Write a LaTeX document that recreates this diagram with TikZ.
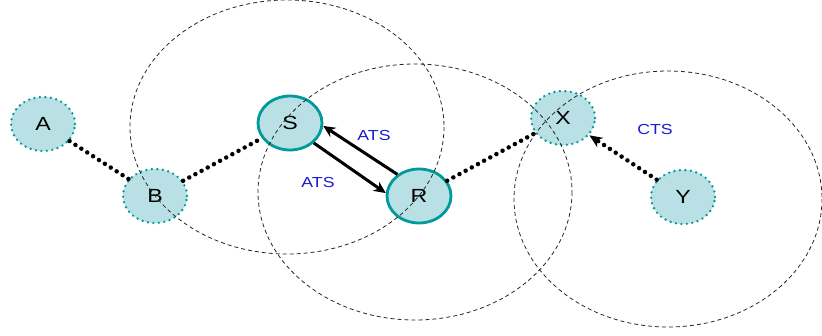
\documentclass[tikz,border=0pt]{standalone}
\usepackage{fontspec}
\usepackage{graphicx}
\setmainfont{Liberation Sans}
\usetikzlibrary{shapes.geometric,arrows.meta}
\definecolor{nodefill}{HTML}{B9E0E4}
\definecolor{teal2}{HTML}{009A9A}
\definecolor{lblue}{HTML}{1A1AD0}
\newcommand{\widetxt}[1]{\scalebox{1.22}[1]{#1}}
\begin{document}
\begin{tikzpicture}[x=1pt,y=-1pt,
  station/.style={ellipse,fill=nodefill,minimum width=64pt,minimum height=54pt,inner sep=0pt,font=\fontsize{19}{19}\selectfont},
  idle/.style={station,draw=teal2,line width=2.6pt,dash pattern=on 0pt off 5.5pt,line cap=round},
  active/.style={station,draw=teal2,line width=2.8pt},
  dotlink/.style={line width=4.5pt,dash pattern=on 0pt off 7pt,line cap=round},
  msg/.style={line width=3pt,-{Stealth[length=12pt,width=11pt]}},
  lbl/.style={text=lblue,font=\fontsize{14.5}{14.5}\selectfont},
  radiorange/.style={line width=0.8pt,dash pattern=on 4pt off 3pt,black!85}]
\useasboundingbox (0,0) rectangle (822,335);
\node[idle] (A) at (43,124) {\widetxt{A}};
\node[idle] (B) at (155,196) {\widetxt{B}};
\node[active] (S) at (290,123) {\widetxt{S}};
\node[active] (R) at (419,196) {\widetxt{R}};
\node[idle] (X) at (563,118) {\widetxt{X}};
\node[idle] (Y) at (683,197) {\widetxt{Y}};
\draw[dotlink] (A) -- (B);
\draw[dotlink] (B) -- (S);
\draw[dotlink] (R) -- (X);
\draw[dotlink,-{Stealth[length=13pt,width=11pt]}] (Y) -- (X);
\draw[msg] (S.-40) -- (R.175);
\draw[msg] (R.135) -- (S.-5);
\node[lbl] (l1) at (374,136) {\widetxt{ATS}};
\node[lbl] (l2) at (318,183) {\widetxt{ATS}};
\node[lbl] (l3) at (655,130) {\widetxt{CTS}};
\draw[radiorange] (287,127) ellipse [x radius=157, y radius=127];
\draw[radiorange] (415,192) ellipse [x radius=157, y radius=128];
\draw[radiorange] (668,199) ellipse [x radius=154, y radius=128];
\end{tikzpicture}
\end{document}
